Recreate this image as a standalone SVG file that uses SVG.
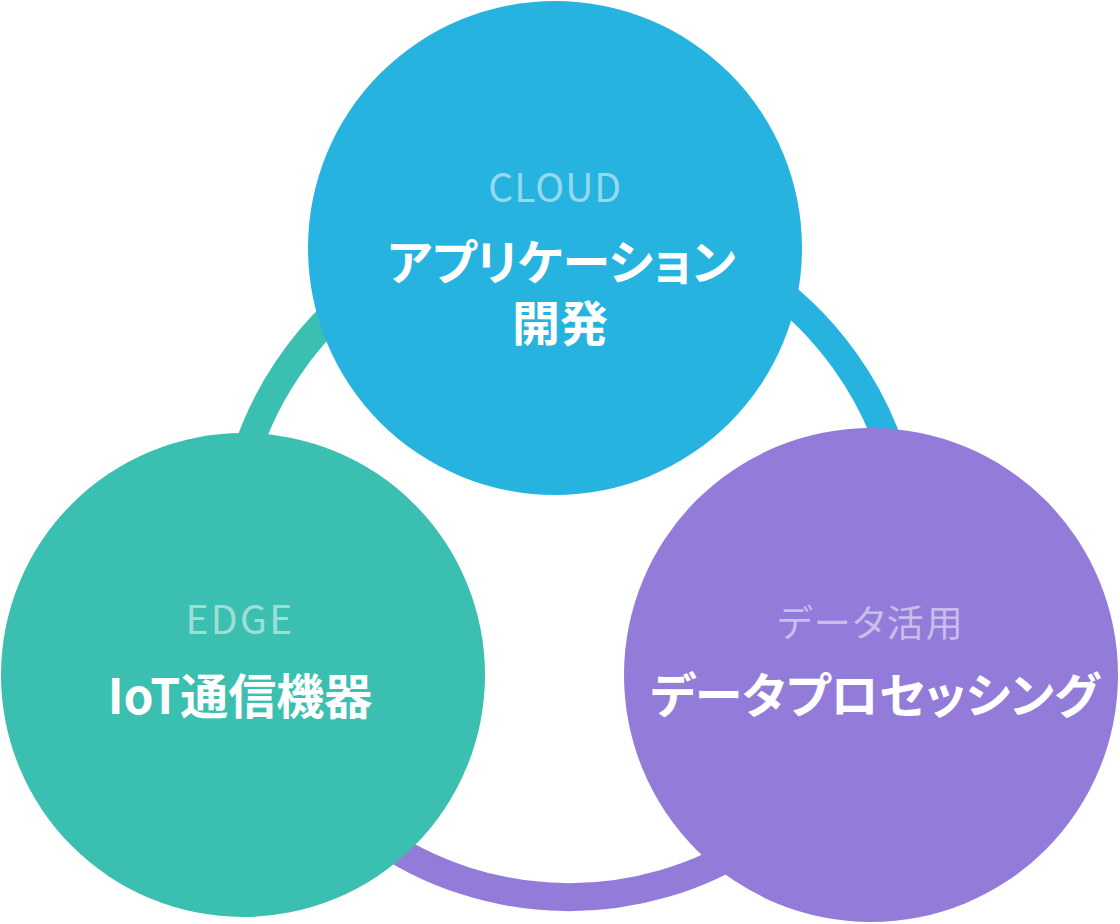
<svg xmlns="http://www.w3.org/2000/svg" width="1120" height="924" viewBox="0 0 1120 924">
  <style>
    .ring { fill: none; stroke-width: 28; }
    .sub { font-family: "Noto Sans CJK JP", "Noto Sans", sans-serif; font-size: 37px; fill: #ffffff; fill-opacity: 0.5; text-anchor: middle; font-feature-settings: "palt"; }
    .lat { font-size: 39px; }
    .main { font-family: "Noto Sans CJK JP", "Noto Sans", sans-serif; font-size: 48px; font-weight: bold; fill: #ffffff; text-anchor: middle; font-feature-settings: "palt"; }
  </style>
  <rect width="1120" height="924" fill="#ffffff"/>
  <g id="connectors">
    <path class="ring" stroke="#937BDA" d="M885.1,680.6 A339,339 0 0 1 249.8,672.3"/>
    <path class="ring" stroke="#3BBFB0" d="M249.8,672.3 A339,339 0 0 1 553.6,219.3"/>
    <path class="ring" stroke="#27B3E0" d="M553.6,219.3 A339,339 0 0 1 885.1,680.6"/>
  </g>
  <g id="node-cloud">
    <circle cx="555" cy="248" r="247" fill="#27B3E0"/>
    <text class="sub lat" x="555.2" y="202" letter-spacing="1">CLOUD</text>
    <text class="main" x="561.5" y="280">アプリケーション</text>
    <text class="main" x="560" y="341">開発</text>
  </g>
  <g id="node-edge">
    <circle cx="243" cy="675" r="242" fill="#3BBFB0"/>
    <text class="sub lat" x="240" y="634" letter-spacing="2.3">EDGE</text>
    <text class="main" x="240" y="714">IoT通信機器</text>
  </g>
  <g id="node-data">
    <circle cx="871" cy="675" r="247" fill="#937BDA"/>
    <text class="sub" x="871" y="637" letter-spacing="2">データ活用</text>
    <text class="main" x="875" y="713">データプロセッシング</text>
  </g>
</svg>
